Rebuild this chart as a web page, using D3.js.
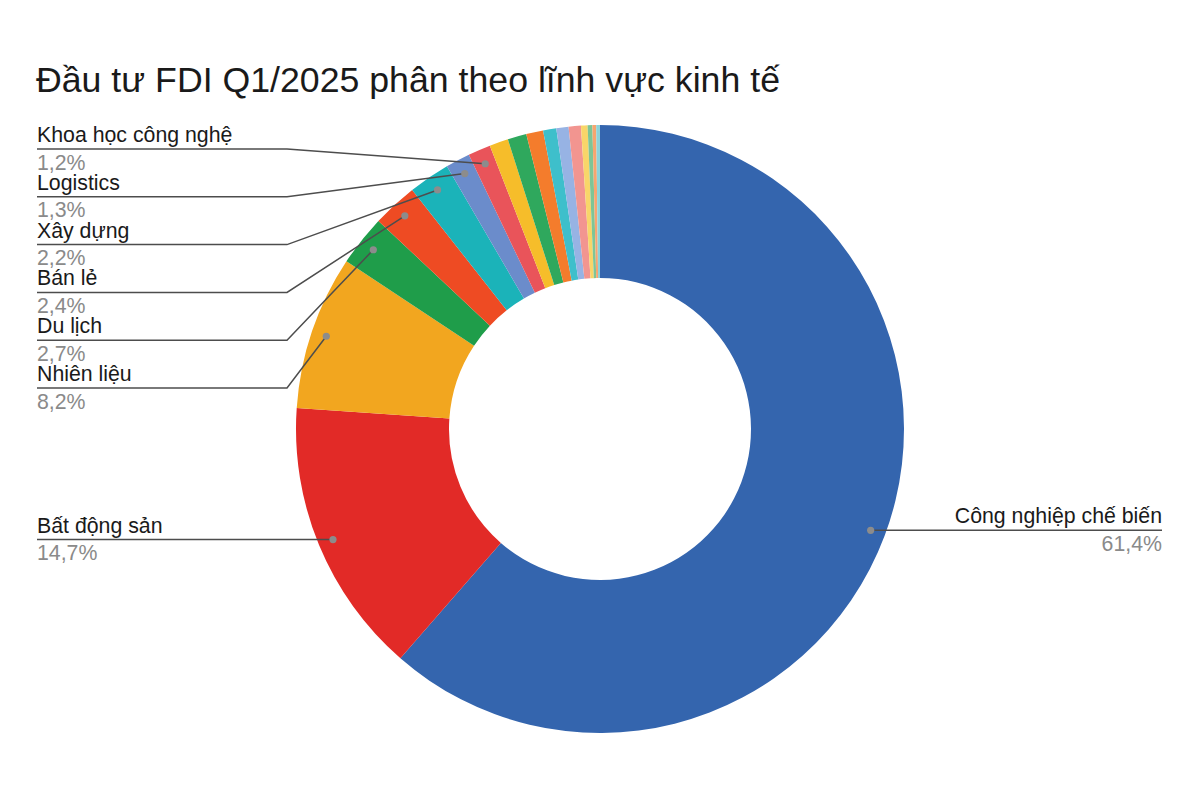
<!DOCTYPE html>
<html>
<head>
<meta charset="utf-8">
<script src="https://cdn.jsdelivr.net/npm/d3@7"></script>
<style>
  html, body { margin: 0; padding: 0; background: #fff; }
  svg { display: block; }
  text { font-family: "Liberation Sans", Arial, Helvetica, sans-serif; }
</style>
</head>
<body>
<svg id="chart" width="1200" height="800"></svg>
<script>
// ---- data ----
const title = "Đầu tư FDI Q1/2025 phân theo lĩnh vực kinh tế";
const categories = [
  "Công nghiệp chế biến", "Bất động sản", "Nhiên liệu", "Du lịch", "Bán lẻ",
  "Xây dựng", "Logistics", "Khoa học công nghệ",
  "Khác 1", "Khác 2", "Khác 3", "Khác 4", "Khác 5", "Khác 6", "Khác 7", "Khác 8", "Khác 9", "Khác 10"
];
const values = [61.4, 14.7, 8.2, 2.7, 2.4, 2.2, 1.3, 1.2, 1.0, 1.0, 0.9, 0.7, 0.65, 0.65, 0.35, 0.25, 0.2, 0.2];
const valueLabels = ["61,4%", "14,7%", "8,2%", "2,7%", "2,4%", "2,2%", "1,3%", "1,2%"];
const colors = [
  "#3465ae", "#e22a27", "#f2a61f", "#1f9d4a", "#ee4b23", "#1bb3b9", "#6b8ccb", "#e9545a",
  "#f6bd2a", "#2fa85d", "#f47c2c", "#3ebfcb", "#97b3e4", "#f29590", "#f8d569", "#7ec596", "#f7a56f", "#8dd3da"
];

// ---- layout ----
const svg = d3.select("#chart");
const cx = 600, cy = 429, rOuter = 304, rInner = 151, rDot = 289;

svg.append("text")
  .attr("x", 36).attr("y", 92)
  .attr("font-size", 34.5)
  .attr("fill", "#1a1a1a")
  .attr("textLength", 744)
  .attr("lengthAdjust", "spacingAndGlyphs")
  .text(title);

const pie = d3.pie().sort(null).value(d => d)(values);
const arc = d3.arc().innerRadius(rInner).outerRadius(rOuter);
const dotArc = d3.arc().innerRadius(rDot).outerRadius(rDot);

const g = svg.append("g").attr("transform", `translate(${cx},${cy})`);
g.selectAll("path.slice").data(pie).join("path")
  .attr("class", "slice")
  .attr("d", arc)
  .attr("fill", (d, i) => colors[i]);

// labels
const labelX = 37, elbowX = 287, rightX = 1162;
const stackTop = 149, stackStep = 47.8;
const lineColor = "#4d4d4d";
const labelled = pie.slice(0, valueLabels.length);

labelled.forEach((d, i) => {
  const [dx, dy] = dotArc.centroid(d);
  const px = cx + dx, py = cy + dy;
  let lineY, points, anchor, tx;
  if (i === 0) {
    lineY = py; points = [[px, py], [rightX, py]]; anchor = "end"; tx = rightX;
  } else if (i === 1) {
    lineY = py; points = [[labelX, py], [px, py]]; anchor = "start"; tx = labelX;
  } else {
    const row = valueLabels.length - 1 - i;
    lineY = stackTop + row * stackStep;
    points = [[labelX, lineY], [elbowX, lineY], [px, py]];
    anchor = "start"; tx = labelX;
  }
  svg.append("path")
    .attr("d", d3.line()(points))
    .attr("fill", "none")
    .attr("stroke", lineColor)
    .attr("stroke-width", 1.5);
  svg.append("circle")
    .attr("cx", px).attr("cy", py).attr("r", 3.6)
    .attr("fill", "#8c8c8c");
  svg.append("text")
    .attr("x", tx).attr("y", lineY - 7)
    .attr("text-anchor", anchor)
    .attr("font-size", 21.3)
    .attr("fill", "#1a1a1a")
    .text(categories[i]);
  svg.append("text")
    .attr("x", tx).attr("y", lineY + 20.5)
    .attr("text-anchor", anchor)
    .attr("font-size", 21.3)
    .attr("fill", "#8a8a8a")
    .text(valueLabels[i]);
});
</script>
</body>
</html>
